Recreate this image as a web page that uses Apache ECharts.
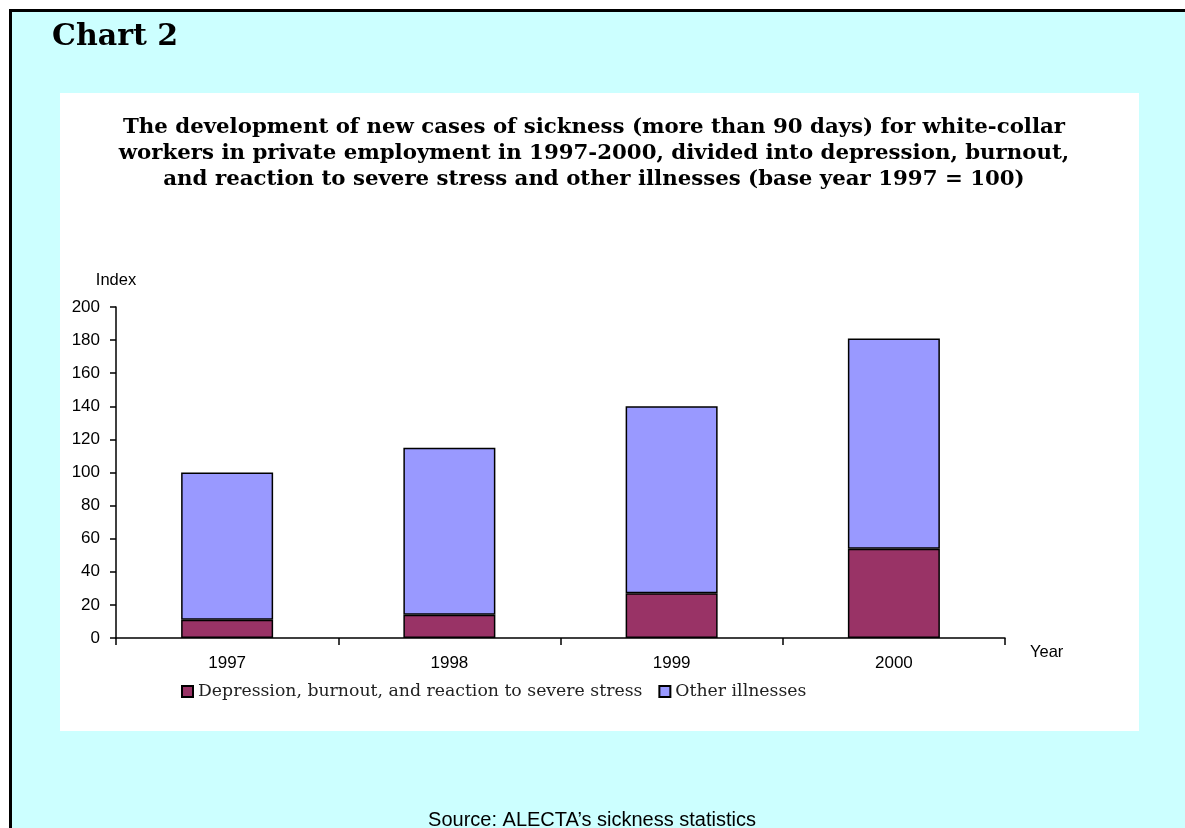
<!DOCTYPE html>
<html>
<head>
<meta charset="utf-8">
<script src="https://cdn.jsdelivr.net/npm/echarts@6/dist/echarts.min.js"></script>
<style>
  html, body { margin: 0; padding: 0; background: #ffffff; }
  #chart { width: 1185px; height: 828px; }
</style>
</head>
<body>
<div id="chart"></div>
<script>
// Index values, base year 1997 = 100
const years = ['1997', '1998', '1999', '2000'];
const depression = [11, 14, 27, 54];
const otherIllnesses = [89, 101, 113, 127];
const yTicks = { min: 0, max: 200, interval: 20 };

const serif = 'DejaVu Serif';
const sans = 'Liberation Sans';

const chart = echarts.init(document.getElementById('chart'), null, { renderer: 'canvas' });

chart.setOption({
  animation: false,
  backgroundColor: '#ffffff',
  graphic: [
    // cyan page with a heavy black frame
    { type: 'rect', z: -10, silent: true,
      shape: { x: 10.5, y: 10.5, width: 1190, height: 830 },
      style: { fill: '#ccffff', stroke: '#000000', lineWidth: 3 } },
    // white chart panel
    { type: 'rect', z: -9, silent: true,
      shape: { x: 60, y: 93, width: 1079, height: 638 },
      style: { fill: '#ffffff' } },
    { type: 'text', x: 52, y: 37, silent: true,
      style: { text: 'Chart 2', font: 'bold 30px "' + serif + '"', fill: '#000000',
        align: 'left', verticalAlign: 'middle' } },
    { type: 'text', x: 594, y: 114, silent: true,
      style: {
        text: 'The development of new cases of sickness (more than 90 days) for white-collar\nworkers in private employment in 1997-2000, divided into depression, burnout,\nand reaction to severe stress and other illnesses (base year 1997 = 100)',
        font: 'bold 21.3px "' + serif + '"', fill: '#000000',
        align: 'center', verticalAlign: 'top', lineHeight: 26
      } },
    { type: 'text', x: 592, y: 820, silent: true,
      style: { text: 'Source: ALECTA\u2019s sickness statistics', font: '20px "' + sans + '"',
        fill: '#000000', align: 'center', verticalAlign: 'middle' } }
  ],
  grid: { left: 116, right: 180, top: 307, bottom: 190, containLabel: false },
  legend: {
    left: 176, top: 678,
    itemWidth: 11, itemHeight: 11, itemGap: 16,
    icon: 'rect',
    textStyle: { fontFamily: serif, fontSize: 17.3, color: '#222222' },
    data: ['Depression, burnout, and reaction to severe stress', 'Other illnesses']
  },
  xAxis: {
    type: 'category',
    data: years,
    name: 'Year',
    nameLocation: 'end',
    nameGap: 25,
    nameTextStyle: { fontFamily: sans, fontSize: 16.5, color: '#000000', verticalAlign: 'top', padding: [6, 0, 0, 0] },
    axisLine: { lineStyle: { color: '#000000', width: 1.5 } },
    axisTick: { show: true, alignWithLabel: false, length: 7, lineStyle: { color: '#000000', width: 1.5 } },
    axisLabel: { fontFamily: sans, fontSize: 17, color: '#000000', margin: 17 }
  },
  yAxis: {
    type: 'value',
    min: yTicks.min, max: yTicks.max, interval: yTicks.interval,
    name: 'Index',
    nameLocation: 'end',
    nameGap: 18,
    nameTextStyle: { fontFamily: sans, fontSize: 16.5, color: '#000000', align: 'center' },
    axisLine: { show: true, lineStyle: { color: '#000000', width: 1.5 } },
    axisTick: { show: true, length: 6, lineStyle: { color: '#000000', width: 1.5 } },
    axisLabel: { fontFamily: sans, fontSize: 17, color: '#000000', margin: 16 },
    splitLine: { show: false }
  },
  series: [
    {
      name: 'Depression, burnout, and reaction to severe stress',
      type: 'bar', stack: 'total', barWidth: 92,
      data: depression,
      itemStyle: { color: '#993366', borderColor: '#000000', borderWidth: 1.5 }
    },
    {
      name: 'Other illnesses',
      type: 'bar', stack: 'total', barWidth: 92,
      data: otherIllnesses,
      itemStyle: { color: '#9999ff', borderColor: '#000000', borderWidth: 1.5 }
    }
  ]
});
</script>
</body>
</html>
